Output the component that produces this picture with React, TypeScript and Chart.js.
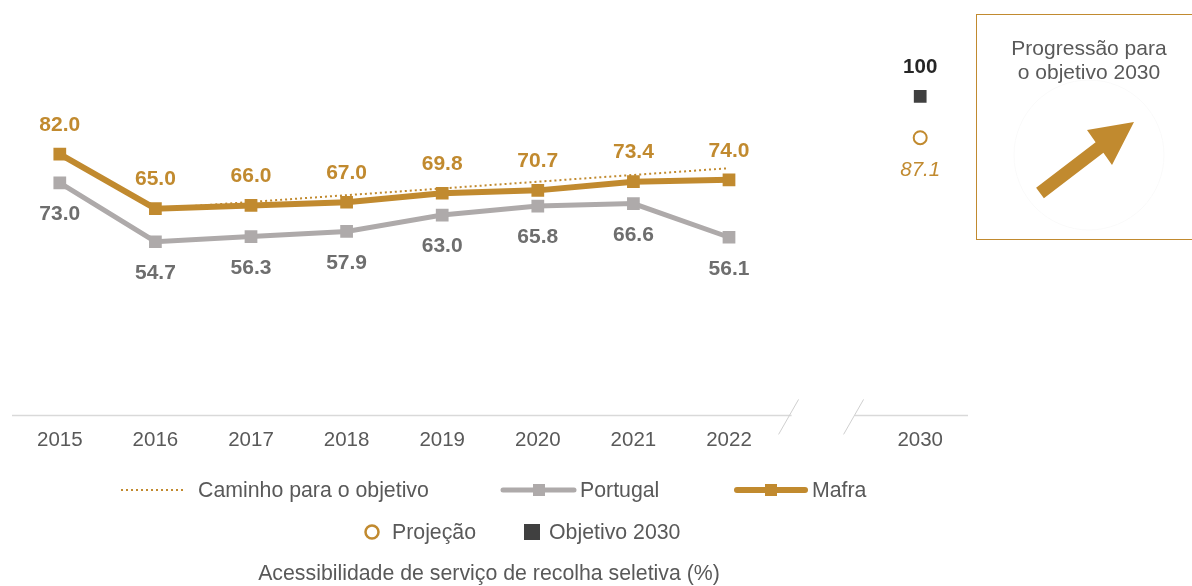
import React, { useEffect, useRef } from "react";
import { Chart, registerables } from "chart.js";

Chart.register(...registerables);

// ---------- data ----------
const years = ["2015", "2016", "2017", "2018", "2019", "2020", "2021", "2022", "", "2030"];
const mafra = [82.0, 65.0, 66.0, 67.0, 69.8, 70.7, 73.4, 74.0, null, null];
const portugal = [73.0, 54.7, 56.3, 57.9, 63.0, 65.8, 66.6, 56.1, null, null];
const caminho = [null, 65.0, 67.1, 69.2, 71.3, 73.4, 75.5, 77.6, null, null];
const projecao = [null, null, null, null, null, null, null, null, null, 87.1];
const objetivo = [null, null, null, null, null, null, null, null, null, 100];

const legendRow1 = ["Caminho para o objetivo", "Portugal", "Mafra"];
const legendRow2 = ["Projeção", "Objetivo 2030"];
const chartTitle = "Acessibilidade de serviço de recolha seletiva (%)";
const boxText = ["Progressão para", "o objetivo 2030"];

// ---------- styles ----------
const FONT = "'Liberation Sans', Arial, sans-serif";
const GOLD = "#C18A2F";
const GRAY = "#AEAAAA";
const LABEL_GRAY = "#6E6E6E";
const TEXT = "#595959";
const DARK = "#404040";
const LEG_SIZE = 21.3;

const labelStyles: Record<string, { off: number; color: string; font: string; digits: number }> = {
  Mafra: { off: -29, color: GOLD, font: `bold 21px ${FONT}`, digits: 1 },
  Portugal: { off: 31.5, color: LABEL_GRAY, font: `bold 21px ${FONT}`, digits: 1 },
  "Projeção": { off: 33, color: GOLD, font: `italic 20.5px ${FONT}`, digits: 1 },
  "Objetivo 2030": { off: -29, color: "#262626", font: `bold 20.5px ${FONT}`, digits: 0 },
};

const overlayPlugin = {
  id: "overlay",
  afterDatasetsDraw(chart: any) {
    const ctx = chart.ctx;
    const xs = chart.scales.x;
    const ys = chart.scales.y;
    const area = chart.chartArea;
    // axis line with break
    const yAxis = ys.getPixelForValue(0) - 2;
    const xb = xs.getPixelForValue(8);
    ctx.save();
    ctx.strokeStyle = "#D9D9D9";
    ctx.lineWidth = 1.5;
    ctx.beginPath();
    ctx.moveTo(area.left, yAxis);
    ctx.lineTo(xb - 33, yAxis);
    ctx.moveTo(xb + 30, yAxis);
    ctx.lineTo(area.right, yAxis);
    ctx.stroke();
    ctx.strokeStyle = "#CFCFCF";
    ctx.lineWidth = 1;
    [xb - 36, xb + 29].forEach((cx) => {
      ctx.beginPath();
      ctx.moveTo(cx + 10, yAxis - 16);
      ctx.lineTo(cx - 10, yAxis + 19);
      ctx.stroke();
    });
    // data labels
    chart.data.datasets.forEach((ds: any, i: number) => {
      const st = labelStyles[ds.label];
      if (!st) return;
      const meta = chart.getDatasetMeta(i);
      ctx.font = st.font;
      ctx.fillStyle = st.color;
      ctx.textAlign = "center";
      ctx.textBaseline = "middle";
      meta.data.forEach((pt: any, j: number) => {
        const v = ds.data[j];
        if (v === null || v === undefined) return;
        ctx.fillText(v.toFixed(st.digits), pt.x, pt.y + st.off);
      });
    });
    ctx.restore();
  },
};

function ChartCanvas() {
  const ref = useRef<HTMLCanvasElement | null>(null);
  useEffect(() => {
    if (!ref.current) return;
    const chart = new Chart(ref.current, {
      type: "line",
      data: {
        labels: years,
        datasets: [
          {
            label: "Mafra",
            data: mafra,
            borderColor: GOLD,
            backgroundColor: GOLD,
            borderWidth: 6,
            pointStyle: "rect",
            pointRadius: 9,
            pointBorderWidth: 0,
            spanGaps: false,
          },
          {
            label: "Portugal",
            data: portugal,
            borderColor: GRAY,
            backgroundColor: GRAY,
            borderWidth: 5,
            pointStyle: "rect",
            pointRadius: 9,
            pointBorderWidth: 0,
          },
          {
            label: "Caminho para o objetivo",
            data: caminho,
            borderColor: GOLD,
            borderWidth: 2,
            borderDash: [2, 3],
            pointRadius: 0,
          },
          {
            label: "Projeção",
            data: projecao,
            showLine: false,
            pointStyle: "circle",
            pointRadius: 6.5,
            pointBorderWidth: 2,
            pointBorderColor: GOLD,
            pointBackgroundColor: "#FFFFFF",
          },
          {
            label: "Objetivo 2030",
            data: objetivo,
            showLine: false,
            pointStyle: "rect",
            pointRadius: 9,
            pointBorderWidth: 0,
            pointBackgroundColor: DARK,
          },
        ],
      },
      options: {
        animation: false,
        responsive: false,
        maintainAspectRatio: false,
        layout: { padding: { left: 12, right: 224, top: 16, bottom: 20 } },
        plugins: { legend: { display: false }, tooltip: { enabled: false } },
        scales: {
          x: {
            offset: true,
            grid: { display: false, drawTicks: false },
            border: { display: false },
            ticks: {
              color: TEXT,
              font: { family: FONT, size: 20.5 },
              padding: 11,
              maxRotation: 0,
              autoSkip: false,
            },
          },
          y: { display: false, min: 0, max: 125 },
        },
      },
      plugins: [overlayPlugin],
    } as any);
    return () => chart.destroy();
  }, []);
  return <canvas ref={ref} width={1192} height={484} style={{ position: "absolute", left: 0, top: 0 }} />;
}

const txt = (left: number, cy: number, s: string, extra: any = {}) => (
  <div
    style={{
      position: "absolute",
      left,
      top: cy - 12,
      height: 24,
      lineHeight: "24px",
      fontFamily: FONT,
      fontSize: LEG_SIZE,
      color: TEXT,
      whiteSpace: "nowrap",
      ...extra,
    }}
  >
    {s}
  </div>
);

export default function App() {
  const r1 = 490;
  const r2 = 532;
  return (
    <div
      style={{
        position: "fixed",
        left: 0,
        top: 0,
        width: 1192,
        height: 586,
        overflow: "hidden",
        background: "#FFFFFF",
      }}
    >
      <ChartCanvas />
      {/* Right box */}
      <div
        style={{
          position: "absolute",
          left: 976,
          top: 14,
          width: 226,
          height: 226,
          border: `1.5px solid ${GOLD}`,
          boxSizing: "border-box",
        }}
      />
      {boxText.map((s, i) => (
        <div
          key={i}
          style={{
            position: "absolute",
            left: 976,
            width: 226,
            top: 36 + i * 24,
            height: 24,
            lineHeight: "24px",
            textAlign: "center",
            fontFamily: FONT,
            fontSize: 21,
            color: TEXT,
            whiteSpace: "nowrap",
          }}
        >
          {s}
        </div>
      ))}
      <svg width={1192} height={586} style={{ position: "absolute", left: 0, top: 0 }}>
        <circle cx={1089} cy={155} r={75} fill="none" stroke="#FAFAFA" strokeWidth={1} />
        <polygon
          points="1036.1,187.8 1095.6,142.3 1087,130 1134,122 1112,165 1103.4,152.7 1043.9,198.2"
          fill={GOLD}
        />
        {/* legend glyphs */}
        <line x1={121} y1={r1} x2={186} y2={r1} stroke={GOLD} strokeWidth={2} strokeDasharray="2 3" />
        <line x1={503} y1={r1} x2={574} y2={r1} stroke={GRAY} strokeWidth={5} strokeLinecap="round" />
        <rect x={533} y={r1 - 6} width={12} height={12} fill={GRAY} />
        <line x1={737} y1={r1} x2={805} y2={r1} stroke={GOLD} strokeWidth={6} strokeLinecap="round" />
        <rect x={765} y={r1 - 6} width={12} height={12} fill={GOLD} />
        <circle cx={372} cy={r2} r={6.5} fill="#FFFFFF" stroke={GOLD} strokeWidth={2.5} />
        <rect x={524} y={r2 - 8} width={16} height={16} fill={DARK} />
      </svg>
      {txt(198, r1, legendRow1[0])}
      {txt(580, r1, legendRow1[1])}
      {txt(812, r1, legendRow1[2])}
      {txt(392, r2, legendRow2[0])}
      {txt(549, r2, legendRow2[1])}
      <div
        style={{
          position: "absolute",
          left: 0,
          width: 978,
          top: 573 - 12,
          height: 24,
          lineHeight: "24px",
          textAlign: "center",
          fontFamily: FONT,
          fontSize: LEG_SIZE,
          color: TEXT,
          whiteSpace: "nowrap",
        }}
      >
        {chartTitle}
      </div>
    </div>
  );
}
